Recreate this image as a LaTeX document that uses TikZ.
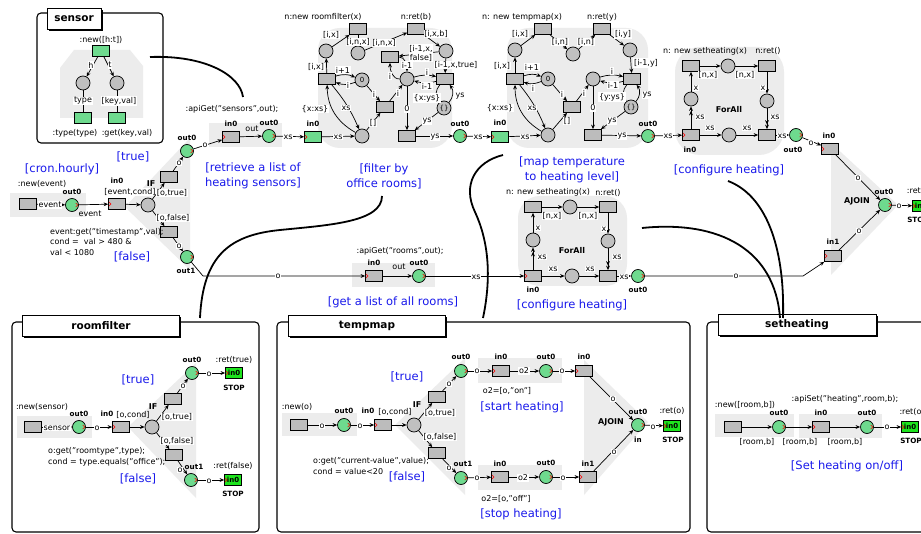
\documentclass[tikz,border=0pt]{standalone}
\usepackage{fontspec}
\setmainfont{DejaVu Sans}
\usetikzlibrary{arrows.meta}
\definecolor{tg}{RGB}{188,188,188}
\definecolor{pg}{RGB}{192,192,192}
\definecolor{gp}{RGB}{110,218,142}
\definecolor{sg}{RGB}{30,228,30}
\definecolor{bgg}{RGB}{236,236,236}
\definecolor{bl}{RGB}{25,25,235}
\newcommand\mkEL[3]{\node[el] (#1) at (#2) {#3};}
\newcommand\mkLB[3]{\node[lbl] (#1) at (#2) {#3};}
\newcommand\mkPT[3]{\node[port] (#1) at (#2) {#3};}
\tikzset{
 trans/.style={draw, fill=tg, minimum width=17pt, minimum height=11pt, inner sep=0pt, line width=0.7pt},
 gtrans/.style={trans, fill=gp},
 place/.style={circle, draw, fill=pg, minimum size=14pt, inner sep=0pt, line width=0.7pt, font=\fontsize{7}{8}\selectfont},
 gplace/.style={place, fill=gp, minimum size=13pt},
 stopbox/.style={draw, fill=sg, minimum width=17pt, minimum height=11pt, inner sep=0pt, line width=0.7pt, font=\bfseries\fontsize{7}{8}\selectfont},
 lbl/.style={inner sep=0.5pt, font=\fontsize{8}{9}\selectfont},
 port/.style={inner sep=0pt, font=\bfseries\fontsize{7.2}{8}\selectfont},
 bigport/.style={inner sep=0pt, font=\bfseries\fontsize{8}{9}\selectfont},
 el/.style={fill=white, inner sep=0.8pt, font=\fontsize{8}{9}\selectfont},
 blu/.style={text=bl, align=center, inner sep=0pt, font=\fontsize{11.5}{15}\selectfont},
 txtblock/.style={align=left, anchor=west, inner sep=0pt, font=\fontsize{8}{10.5}\selectfont},
 arr/.style={-{Stealth[length=4.5pt,width=3.8pt]}, line width=0.7pt},
 darr/.style={-{Stealth[length=4.5pt,width=3.8pt]Stealth[length=4.5pt,width=3.8pt]}, line width=0.7pt},
 ln/.style={line width=0.7pt},
 frame/.style={draw, line width=1.1pt, rounded corners=4pt},
 titlebox/.style={draw, fill=white, line width=1pt, minimum height=21pt, inner sep=0pt, font=\bfseries\fontsize{10.5}{12}\selectfont, preaction={fill=black, transform canvas={shift={(1.8pt,-1.8pt)}}}},
 curve/.style={line width=1.8pt},
 rmo/.pic={\draw[red, line width=0.55pt] (-3.2,-2) -- (-1.2,0) -- (-3.2,2);},
 rmi/.pic={\draw[red, line width=0.55pt] (0.8,-2) -- (2.8,0) -- (0.8,2);},
}
\begin{document}
\begin{tikzpicture}[x=1pt,y=-1pt]
\useasboundingbox (0,0) rectangle (921,534);
\clip (0,0) rectangle (921,534);
\fill[white] (0,0) rectangle (921,534);

% ---------- backgrounds
\fill[bgg] (60,118) -- (60,68) -- (74,50) -- (130,50) -- (143,66) -- (143,118) -- cycle;
\fill[bgg] (10,193) rectangle (86,217);
\fill[bgg] (125,207) -- (190,138) -- (190,270) -- cycle;
\fill[bgg] (209,123) rectangle (282,147);
\fill[bgg, rounded corners=22pt] (318,28) rectangle (452,148);
\fill[bgg, rounded corners=22pt] (507,28) rectangle (648,148);
\fill[bgg, rounded corners=25pt] (675,47) rectangle (784,155);
\fill[bgg] (831,143) -- (831,275) -- (898,205) -- cycle;
\fill[bgg] (352,263) rectangle (435,287);
\fill[bgg, rounded corners=22pt] (518,196) rectangle (627,286);
\fill[bgg] (17,416) rectangle (92,438);
\fill[bgg] (128,427) -- (196,363) -- (196,498) -- cycle;
\fill[bgg] (282,413) rectangle (357,436);
\fill[bgg] (395,425) -- (465,358) -- (465,495) -- cycle;
\fill[bgg] (478,358) rectangle (562,383);
\fill[bgg] (478,465) rectangle (562,490);
\fill[bgg] (584,360) -- (584,495) -- (648,422) -- cycle;
\fill[bgg] (715,414) rectangle (794,437);
\fill[bgg] (799,414) rectangle (882,438);

% ---------- sensor box
\draw[frame] (37,13) rectangle (163,143);
\node[titlebox, minimum width=54pt] (tsen) at (74,19) {sensor};
\node[gtrans] (snew) at (101,51) {};
\mkLB{lsnew}{101,40}{:new([h:t])}
\node[place] (sc1) at (83,83) {};
\node[place] (sc2) at (117,83) {};
\node[gtrans] (sr1) at (83,118) {};
\node[gtrans] (sr2) at (117,118) {};
\draw[arr] (snew) -- (sc1);
\draw[arr] (snew) -- (sc2);
\mkEL{es1}{91,65}{h}
\mkEL{es2}{110,65}{t}
\draw[ln] (sc1) -- (sr1);
\draw[ln] (sc2) -- (sr2);
\mkEL{es3}{83,101}{type}
\mkEL{es4}{119,101}{[key,val]}
\mkLB{lst}{75,133}{:type(type)}
\mkLB{lsg}{127,133}{:get(key,val)}

% ---------- cron / IF
\node[blu] (bcron) at (62,169) {[cron.hourly]};
\mkLB{lnewev}{42,184}{:new(event)}
\node[trans] (tnew) at (28,204) {};
\node[gplace] (oev) at (72,205) {};
\mkPT{qoev}{72,192}{out0}
\draw[arr] (tnew) -- (oev);
\mkEL{e1}{50,205}{event}
\node[trans] (iif) at (117,204) {};
\mkPT{qiif}{117,181}{in0}
\draw[arr] (oev) -- (iif);
\mkLB{e2}{90,214}{event}
\node[bigport] (qif) at (151,184) {IF};
\node[el] (lec) at (130,192) {[event,cond]};
\node[place] (pif) at (148,205) {};
\draw[arr] (iif) -- (pif);
\node[trans] (rt) at (169,177) {};
\node[trans] (rf) at (169,232) {};
\draw[arr] (pif) -- (rt);
\draw[arr] (pif) -- (rf);
\mkEL{e3}{172,193}{[o,true]}
\mkEL{e4}{173,218}{[o,false]}
\node[gplace] (ot) at (187,151) {};
\node[gplace] (of) at (187,257) {};
\mkPT{qot}{187,138}{out0}
\mkPT{qof}{186,271}{out1}
\draw[arr] (rt) -- (ot); \mkEL{e5}{179,163}{o}
\draw[arr] (rf) -- (of); \mkEL{e6}{179,246}{o}
\node[blu] (btrue) at (133,157) {[true]};
\node[blu] (bfalse) at (132,257) {[false]};
\node[txtblock] (lcond) at (50,242) {event:get("timestamp",val);\\cond =\ \ val > 480 \&\\val < 1080};

% ---------- apiGet sensors
\mkLB{lapis}{232,109}{:apiGet("sensors",out);}
\node[trans] (ias) at (231,137) {};
\mkPT{qias}{231,124}{in0}
\node[gplace] (oas) at (269,136) {};
\mkPT{qoas}{269,123}{out0}
\draw[arr] (ias) -- (oas);
\mkLB{e7}{252,129}{out}
\draw[arr] (ot) -- (ias); \mkEL{e8}{205,145}{o}
\node[blu] (bret) at (253,176) {[retrieve a list of\\heating sensors]};

% ---------- roomfilter map
\node[gtrans] (gin) at (313,137) {};
\mkPT{qgin}{313,124}{in0}
\draw[arr] (oas) -- (gin); \mkEL{e9}{288,137}{xs}
\node[trans] (rfnew) at (358,29) {}; \mkLB{lrfnew}{323,17}{n:new roomfilter(x)}
\node[trans] (rfret) at (416,29) {}; \mkLB{lrfret}{416,17}{n:ret(b)}
\node[place] (rfc1) at (326,51) {};
\node[place] (rfc2) at (358,53) {};
\node[place] (rfc3) at (446,51) {};
\node[trans] (rft1) at (327,79) {};
\node[place] (rfz) at (362,80) {0};
\node[trans] (rftf) at (390,57) {};
\node[place] (rfcnt) at (407,79) {};
\node[trans] (rftt) at (445,79) {};
\node[trans] (rftm) at (385,107) {};
\node[place] (rfys) at (444,108) {\{\}};
\node[trans] (rfte) at (407,136) {};
\node[place] (rfcx) at (362,136) {};
\node[gplace] (rfout) at (460,136) {}; \mkPT{qrfout}{460,124}{out0}
\draw[arr] (rft1) -- (rfc1); \mkEL{r1}{316,67}{[i,x]}
\draw[arr] (rfc1) -- (rfnew); \mkEL{r2}{331,35}{[i,x]}
\draw[arr] (rfnew) -- (rfc2); \mkEL{r3}{358,42}{[i,n,x]}
\draw[arr] (rfc2) -- (rfret); \mkEL{r4}{384,43}{[i,n,x]}
\draw[arr] (rfret) -- (rfc3); \mkEL{r5}{436,34}{[i,x,b]}
\draw[arr] (rfc3) -- (rftt); \mkEL{r6}{456,65}{[i-1,x,true]}
\draw[arr] (rfc3) -- (rftf); \node[el, align=center] (r7) at (421,53) {[i-1,x,\\false]};
\draw[arr] (rftf.east) to[out=0,in=90] (rfcnt.north); \mkEL{r8}{407,65}{i-1}
\draw[arr] (rfcnt.west) to[out=180,in=-90] (rftf.south); \mkEL{r9}{390,76}{i}
\draw[arr] (rfcnt) to[bend left=15] (rftt); \mkEL{r10}{427,72}{i}
\draw[arr] (rftt) to[bend left=15] (rfcnt); \mkEL{r11}{427,86}{i-1}
\draw[arr] (rft1) to[bend left=20] (rfz); \mkEL{r12}{343,70}{i+1}
\draw[arr] (rfz) to[bend left=20] (rft1); \mkEL{r13}{348,85}{i}
\draw[arr] (rfz) -- (rftm); \mkEL{r14}{374,94}{i}
\draw[arr] (rftm) -- (rfcnt); \mkEL{r15}{398,93}{i}
\draw[arr] (rfcnt) -- (rfte); \mkEL{r16}{407,109}{0}
\draw[arr] (rfys) to[bend right=40] (rftt); \mkEL{r17}{460,96}{ys}
\draw[arr] (rftt) to[bend right=40] (rfys); \mkEL{r18}{427,98}{\{x:ys\}}
\draw[arr] (rfys) -- (rfte); \mkEL{r19}{427,121}{ys}
\draw[arr] (rfte) -- (rfout); \mkEL{r20}{435,137}{ys}
\draw[arr] (gin) -- (rfcx); \mkEL{r21}{338,137}{xs}
\draw[arr] (rfcx) to[bend left=30] (rft1); \mkEL{r22}{315,109}{\{x:xs\}}
\draw[arr] (rft1) to[bend left=8] (rfcx); \mkEL{r23}{346,108}{xs}
\draw[arr] (rfcx) -- (rftm); \mkEL{r24}{373,123}{[]}
\node[blu] (bfilt) at (384,176) {[filter by\\office rooms]};

% ---------- tempmap map
\node[gtrans] (tin) at (500,137) {}; \mkPT{qtin}{500,123}{in0}
\draw[arr] (rfout) -- (tin); \mkEL{t0}{478,137}{xs}
\node[trans] (tmnew) at (543,29) {}; \mkLB{ltmnew}{522,17}{n: new tempmap(x)}
\node[trans] (tmret) at (602,29) {}; \mkLB{ltmret}{602,17}{n:ret(y)}
\node[place] (tmc1) at (515,50) {};
\node[place] (tmc2) at (573,54) {};
\node[place] (tmc3) at (630,50) {};
\node[trans] (tmt1) at (515,79) {};
\node[place] (tmz) at (548,79) {0};
\node[trans] (tmtm) at (572,107) {};
\node[place] (tmcnt) at (593,79) {};
\node[trans] (tmtt) at (632,79) {};
\node[place] (tmys) at (631,107) {\{\}};
\node[trans] (tmte) at (593,135) {};
\node[place] (tmcx) at (548,135) {};
\node[gplace] (tmout) at (648,136) {}; \mkPT{qtmout}{648,124}{out0}
\draw[arr] (tmt1) -- (tmc1); \mkEL{t1}{502,66}{[i,x]}
\draw[arr] (tmc1) -- (tmnew); \mkEL{t2}{520,34}{[i,x]}
\draw[arr] (tmnew) -- (tmc2); \mkEL{t3}{560,42}{[i,n]}
\draw[arr] (tmc2) -- (tmret); \mkEL{t4}{586,42}{[i,n]}
\draw[arr] (tmret) -- (tmc3); \mkEL{t5}{623,34}{[i,y]}
\draw[arr] (tmc3) -- (tmtt); \mkEL{t6}{646,63}{[i-1,y]}
\draw[arr] (tmt1) to[bend left=20] (tmz); \mkEL{t7}{532,67}{i+1}
\draw[arr] (tmz) to[bend left=20] (tmt1); \mkEL{t8}{533,88}{i}
\draw[arr] (tmz) -- (tmtm); \mkEL{t9}{562,94}{i}
\draw[arr] (tmtm) -- (tmcnt); \mkEL{t10}{584,93}{i}
\draw[arr] (tmcnt) to[bend left=15] (tmtt); \mkEL{t11}{612,71}{i}
\draw[arr] (tmtt) to[bend left=15] (tmcnt); \mkEL{t12}{613,85}{i-1}
\draw[arr] (tmys) to[bend right=40] (tmtt); \mkEL{t13}{647,95}{ys}
\draw[arr] (tmtt) to[bend right=40] (tmys); \mkEL{t14}{612,97}{\{y:ys\}}
\draw[arr] (tmcnt) -- (tmte); \mkEL{t15}{593,108}{0}
\draw[arr] (tmys) -- (tmte); \mkEL{t16}{612,121}{ys}
\draw[arr] (tmte) -- (tmout); \mkEL{t17}{622,136}{ys}
\draw[arr] (tin) -- (tmcx); \mkEL{t18}{525,137}{xs}
\draw[arr] (tmcx) to[bend left=30] (tmt1); \mkEL{t19}{500,108}{\{x:xs\}}
\draw[arr] (tmt1) to[bend left=8] (tmcx); \mkEL{t20}{532,108}{xs}
\draw[arr] (tmcx) -- (tmtm); \mkEL{t21}{567,121}{[]}
\node[blu] (bmap) at (572,170) {[map temperature\\to heating level]};

% ---------- ForAll top
\node[trans] (fain) at (691,135) {}; \mkPT{qfain}{690,150}{in0}
\draw[arr] (tmout) -- (fain); \mkEL{f0}{668,136}{xs}
\node[place] (fac) at (729,135) {};
\node[trans] (faend) at (767,135) {};
\node[place] (fal) at (691,99) {};
\node[trans] (fanew) at (691,66) {}; \mkLB{lfanew}{705,51}{n: new setheating(x)}
\node[place] (fam) at (728,66) {};
\node[trans] (faret) at (767,66) {}; \mkLB{lfaret}{768,51}{n:ret()}
\node[place] (far) at (767,101) {};
\node[gplace] (faout) at (796,135) {}; \mkPT{qfaout}{793,150}{out0}
\node[bigport] (qfaall) at (729,110) {ForAll};
\draw[darr] (fain) -- (fal); \mkEL{f1}{700,117}{xs}
\draw[arr] (fal) -- (fanew); \mkEL{f2}{696,88}{x}
\draw[arr] (fanew) -- (fam); \mkEL{f3}{708,75}{[n,x]}
\draw[arr] (fam) -- (faret); \mkEL{f4}{745,75}{[n,x]}
\draw[arr] (faret) -- (far); \mkEL{f5}{763,88}{x}
\draw[darr] (far) -- (faend); \mkEL{f6}{775,117}{xs}
\draw[arr] (fain) -- (fac); \mkEL{f7}{710,128}{xs}
\draw[arr] (fac) -- (faend); \mkEL{f8}{747,128}{xs}
\draw[arr] (faend) -- (faout); \mkEL{f9}{782,136}{xs}
\node[blu] (bconf1) at (729,170) {[configure heating]};

% ---------- AJOIN top
\node[trans] (ajin0) at (830,149) {}; \mkPT{qajin0}{829,136}{in0}
\node[trans] (ajin1) at (833,256) {}; \mkPT{qajin1}{833,242}{in1}
\node[gplace] (ajout) at (885,205) {}; \mkPT{qajout}{884,192}{out0}
\node[bigport] (qaj) at (857,201) {AJOIN};
\draw[arr] (faout) -- (ajin0); \mkEL{a1}{811,143}{o}
\draw[arr] (ajin0) -- (ajout); \mkEL{a2}{858,178}{o}
\draw[arr] (ajin1) -- (ajout); \mkEL{a3}{859,231}{o}
\node[stopbox] (ajstop) at (921,206) {in0};
\mkLB{lajret}{917,191}{:ret()}
\mkPT{qajstop}{918,220}{STOP}
\draw[arr] (ajout) -- (ajstop); \mkEL{a4}{899,206}{o}

% ---------- lower branch: apiGet rooms
\mkLB{lapir}{400,251}{:apiGet("rooms",out);}
\node[trans] (arin) at (374,276) {}; \mkPT{qarin}{374,263}{in0}
\node[gplace] (arout) at (419,276) {}; \mkPT{qarout}{419,263}{out0}
\draw[arr] (arin) -- (arout); \mkLB{g1}{399,267}{out}
\coordinate (k1) at (203,276);
\draw[arr] (of) -- (k1) -- (arin); \mkEL{g2}{278,276}{o}
\node[blu] (brooms) at (393,302) {[get a list of all rooms]};

% ---------- ForAll middle
\node[trans] (fbin) at (533,276) {}; \mkPT{qfbin}{533,290}{in0}
\draw[arr] (arout) -- (fbin); \mkEL{h0}{476,277}{xs}
\node[place] (fbc) at (572,276) {};
\node[trans] (fbend) at (608,276) {};
\node[place] (fbl) at (533,240) {};
\node[trans] (fbnew) at (533,207) {}; \mkLB{lfbnew}{548,192}{n: new setheating(x)}
\node[place] (fbm) at (570,207) {};
\node[trans] (fbret) at (608,207) {}; \mkLB{lfbret}{608,193}{n:ret()}
\node[place] (fbr) at (608,241) {};
\node[gplace] (fbout) at (638,276) {}; \mkPT{qfbout}{638,290}{out0}
\node[bigport] (qfball) at (572,251) {ForAll};
\draw[darr] (fbin) -- (fbl); \mkEL{h1}{542,257}{xs}
\draw[arr] (fbl) -- (fbnew); \mkEL{h2}{538,228}{x}
\draw[arr] (fbnew) -- (fbm); \mkEL{h3}{552,216}{[n,x]}
\draw[arr] (fbm) -- (fbret); \mkEL{h4}{588,216}{[n,x]}
\draw[arr] (fbret) -- (fbr); \mkEL{h5}{604,229}{x}
\draw[darr] (fbr) -- (fbend); \mkEL{h6}{617,257}{xs}
\draw[arr] (fbin) -- (fbc); \mkEL{h7}{553,269}{xs}
\draw[arr] (fbc) -- (fbend); \mkEL{h8}{590,269}{xs}
\draw[arr] (fbend) -- (fbout); \mkEL{h9}{624,277}{xs}
\node[blu] (bconf2) at (572,305) {[configure heating]};
\coordinate (k2) at (803,276);
\draw[arr] (fbout) -- (k2) -- (ajin1); \mkEL{h10}{736,276}{o}

% ---------- bottom: roomfilter
\draw[frame] (12,322) rectangle (259,532);
\node[titlebox, minimum width=157pt] (troom) at (101,326) {roomfilter};
\mkLB{lnews}{42,407}{:new(sensor)}
\node[trans] (bat) at (33,427) {};
\node[gplace] (bao) at (79,427) {}; \mkPT{qbao}{79,414}{out0}
\draw[arr] (bat) -- (bao); \mkEL{b1}{57,428}{sensor}
\node[trans] (bain) at (121,427) {}; \mkPT{qbain}{107,414}{in0}
\draw[arr] (bao) -- (bain); \mkEL{b2}{97,428}{o}
\node[bigport] (qbif) at (153,407) {IF};
\mkLB{lboc}{133,415}{[o,cond]}
\node[place] (bap) at (152,427) {};
\draw[arr] (bain) -- (bap);
\node[trans] (bart) at (173,399) {};
\node[trans] (barf) at (174,455) {};
\draw[arr] (bap) -- (bart);
\draw[arr] (bap) -- (barf);
\mkEL{b3}{177,417}{[o,true]}
\mkEL{b4}{177,441}{[o,false]}
\node[gplace] (baot) at (192,373) {}; \mkPT{qbaot}{192,360}{out0}
\node[gplace] (baof) at (191,480) {}; \mkPT{qbaof}{194,467}{out1}
\draw[arr] (bart) -- (baot); \mkEL{b5}{183,386}{o}
\draw[arr] (barf) -- (baof); \mkEL{b6}{180,470}{o}
\node[stopbox] (bast) at (234,373) {in0}; \mkLB{lrt}{234,360}{:ret(true)} \mkPT{qst1}{234,388}{STOP}
\draw[arr] (baot) -- (bast); \mkEL{b7}{209,374}{o}
\node[stopbox] (basf) at (233,480) {in0}; \mkLB{lrf}{233,466}{:ret(false)} \mkPT{qst2}{233,494}{STOP}
\draw[arr] (baof) -- (basf); \mkEL{b8}{209,481}{o}
\node[blu] (bbt) at (138,380) {[true]};
\node[blu] (bbf) at (138,479) {[false]};
\node[txtblock] (lbc) at (48,457) {o:get("roomtype",type);\\cond = type.equals("office");};

% ---------- bottom: tempmap
\draw[frame] (277,322) rectangle (690,532);
\node[titlebox, minimum width=157pt] (ttemp) at (367,326) {tempmap};
\mkLB{lnewo}{297,407}{:new(o)}
\node[trans] (cat) at (299,425) {};
\node[gplace] (cao) at (344,425) {}; \mkPT{qcao}{344,411}{out0}
\draw[arr] (cat) -- (cao); \mkEL{c1}{322,426}{o}
\node[trans] (cain) at (383,425) {}; \mkPT{qcain}{368,411}{in0}
\draw[arr] (cao) -- (cain); \mkEL{c2}{360,426}{o}
\node[bigport] (qcif) at (417,405) {IF};
\mkLB{lcoc}{395,412}{[o,cond]}
\node[place] (cap) at (414,425) {};
\draw[arr] (cain) -- (cap);
\node[trans] (cart) at (437,397) {};
\node[trans] (carf) at (437,453) {};
\draw[arr] (cap) -- (cart);
\draw[arr] (cap) -- (carf);
\mkEL{c3}{440,413}{[o,true]}
\mkEL{c4}{440,437}{[o,false]}
\node[gplace] (caot) at (461,371) {}; \mkPT{qcaot}{461,357}{out0}
\node[gplace] (caof) at (461,478) {}; \mkPT{qcaof}{463,464}{out1}
\draw[arr] (cart) -- (caot); \mkEL{c5}{449,384}{o}
\draw[arr] (carf) -- (caof); \mkEL{c6}{449,468}{o}
\node[blu] (bct) at (407,377) {[true]};
\node[blu] (bcf) at (407,477) {[false]};
\node[txtblock] (lcc) at (313,466) {o:get("current-value",value);\\cond = value<20};
\node[trans] (csin) at (501,371) {}; \mkPT{qcsin}{501,357}{in0}
\node[gplace] (csout) at (546,371) {}; \mkPT{qcsout}{546,357}{out0}
\draw[arr] (caot) -- (csin); \mkEL{c7}{477,371}{o}
\draw[arr] (csin) -- (csout); \mkEL{c8}{524,371}{o2}
\mkLB{lon}{507,391}{o2=[o,"on"]}
\node[blu] (bstart) at (522,407) {[start heating]};
\node[trans] (cfin) at (500,477) {}; \mkPT{qcfin}{500,464}{in0}
\node[gplace] (cfout) at (546,477) {}; \mkPT{qcfout}{546,463}{out0}
\draw[arr] (caof) -- (cfin); \mkEL{c9}{477,478}{o}
\draw[arr] (cfin) -- (cfout); \mkEL{c10}{523,478}{o2}
\mkLB{loff}{506,499}{o2=[o,"off"]}
\node[blu] (bstop) at (521,514) {[stop heating]};
\node[trans] (ca0) at (584,371) {}; \mkPT{qca0}{584,357}{in0}
\node[trans] (ca1) at (588,477) {}; \mkPT{qca1}{588,464}{in1}
\node[gplace] (cao2) at (638,425) {}; \mkPT{qcao2}{638,412}{out0}
\mkPT{qcin}{638,440}{in}
\node[bigport] (qcaj) at (611,422) {AJOIN};
\draw[arr] (csout) -- (ca0); \mkEL{c11}{562,371}{o}
\draw[arr] (cfout) -- (ca1); \mkEL{c12}{563,478}{o}
\draw[arr] (ca0) -- (cao2); \mkEL{c13}{613,399}{o}
\draw[arr] (ca1) -- (cao2); \mkEL{c14}{614,452}{o}
\node[stopbox] (cstop) at (672,426) {in0}; \mkLB{lcret}{672,411}{:ret(o)} \mkPT{qcst}{673,440}{STOP}
\draw[arr] (cao2) -- (cstop); \mkEL{c15}{653,427}{o}

% ---------- bottom: setheating
\draw[frame] (707,322) rectangle (945,532);
\node[titlebox, minimum width=158pt] (tset) at (797,325) {setheating};
\mkLB{lnewrb}{745,405}{:new([room,b])}
\node[trans] (dt) at (733,427) {};
\node[gplace] (dout) at (779,427) {}; \mkPT{qdout}{779,413}{out0}
\draw[arr] (dt) -- (dout); \mkLB{d1}{757,442}{[room,b]}
\mkLB{lapiset}{845,399}{:apiSet("heating",room,b);}
\node[trans] (din) at (821,427) {}; \mkPT{qdin}{821,413}{in0}
\node[gplace] (dout2) at (867,427) {}; \mkPT{qdout2}{867,413}{out0}
\draw[arr] (dout) -- (din); \mkLB{d2}{800,442}{[room,b]}
\draw[arr] (din) -- (dout2); \mkLB{d3}{845,442}{[room,b]}
\node[stopbox] (dstop) at (910,427) {in0}; \mkLB{ldret}{912,412}{:ret(o)} \mkPT{qdst}{911,441}{STOP}
\draw[arr] (dout2) -- (dstop); \mkEL{d4}{887,427}{o}
\node[blu] (bset) at (847,466) {[Set heating on/off]};

% ---------- red port marks
\foreach \n in {oev,ot,of,oas,rfout,tmout,faout,arout,fbout,ajout,bao,baot,baof,cao,caot,caof,csout,cfout,cao2,dout,dout2}
  \pic at (\n.east) {rmo};
\foreach \n in {iif,ias,gin,tin,fain,arin,fbin,ajin0,ajin1,ajstop,bain,bast,basf,cain,csin,cfin,ca0,ca1,cstop,din,dstop}
  \pic at (\n.west) {rmi};

% ---------- annotation curves
\draw[curve] (150,57) .. controls (205,55) and (240,75) .. (243,97);
\draw[curve] (382,196) .. controls (382,222) and (330,225) .. (280,230) .. controls (230,235) and (203,255) .. (200,318);
\draw[curve] (503,155) .. controls (475,162) and (462,185) .. (475,212) .. controls (488,240) and (492,275) .. (483,318);
\draw[curve] (728,181) .. controls (765,195) and (785,245) .. (783,318);
\draw[curve] (642,228) .. controls (720,220) and (775,250) .. (780,318);
\end{tikzpicture}
\end{document}
